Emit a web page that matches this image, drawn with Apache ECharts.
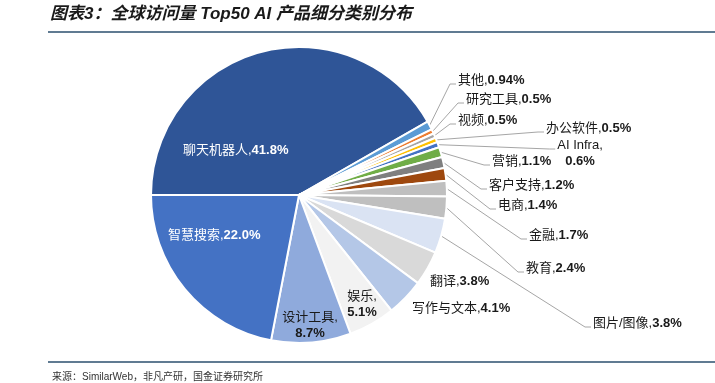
<!DOCTYPE html>
<html>
<head>
<meta charset="utf-8">
<script src="https://cdn.jsdelivr.net/npm/echarts@6/dist/echarts.min.js"></script>
<style>
  html, body { margin: 0; padding: 0; background: #fff; }
  #chart-panel { width: 715px; height: 383px; }
</style>
</head>
<body>
<div id="chart-panel"></div>
<script>
var chart = echarts.init(document.getElementById('chart-panel'));

// 类别（顺时针，从聊天机器人开始）
var names = ['聊天机器人', '其他', '研究工具', '视频', '办公软件', 'AI Infra', '营销', '客户支持',
  '电商', '金融', '教育', '图片/图像', '翻译', '写作与文本', '娱乐', '设计工具', '智慧搜索'];
// 占比 %
var values = [41.8, 0.94, 0.5, 0.5, 0.5, 0.6, 1.1, 1.2, 1.4, 1.7, 2.4, 3.8, 3.8, 4.1, 5.1, 8.7, 22.0];

var colors = ['#2F5597', '#5B9BD5', '#ED7D31', '#A5A5A5', '#FFC000', '#4472C4', '#70AD47', '#7F7F7F',
  '#9E480E', '#BFBFBF', '#BFBFBF', '#DAE3F3', '#D9D9D9', '#B4C7E7', '#F2F2F2', '#8FAADC', '#4472C4'];
// 标签位置 [x, y, 对齐]
var labelPos = [
  [183, 150, 'left'], [458, 80, 'left'], [466, 99, 'left'], [458, 120, 'left'],
  [546, 128, 'left'], [580, 153, 'center'], [492, 161, 'left'], [489, 185, 'left'],
  [498, 205, 'left'], [529, 235, 'left'], [526, 268, 'left'], [593, 323, 'left'],
  [430, 281, 'left'], [412, 308, 'left'], [362, 304, 'center'], [310, 325, 'center'],
  [168, 235, 'left']
];
var whiteLabel = ['聊天机器人', '智慧搜索'];
var noLine = ['聊天机器人', '智慧搜索', '设计工具', '娱乐', '翻译', '写作与文本'];
var wrapped = ['设计工具', '娱乐', 'AI Infra'];

function fmt(v) {
  return Math.abs(Math.round(v * 10) - v * 10) > 1e-6 ? v.toFixed(2) : v.toFixed(1);
}

var data = names.map(function (n, i) {
  var white = whiteLabel.indexOf(n) >= 0;
  return {
    name: n,
    value: values[i],
    itemStyle: { color: colors[i] },
    label: { color: white ? '#fff' : '#1a1a1a' },
    labelLine: { show: noLine.indexOf(n) < 0 }
  };
});

var option = {
  animation: false,
  backgroundColor: '#fff',
  graphic: [
    {
      type: 'text', left: 50, top: 6,
      style: {
        text: '图表3：全球访问量 Top50 AI 产品细分类别分布',
        font: 'italic bold 17px "Liberation Sans", "Noto Sans CJK SC"',
        fill: '#1a1a1a'
      }
    },
    {
      type: 'line', shape: { x1: 48, y1: 32, x2: 715, y2: 32 },
      style: { stroke: '#2B4F6E', lineWidth: 1.5 }
    },
    {
      type: 'line', shape: { x1: 48, y1: 362, x2: 715, y2: 362 },
      style: { stroke: '#2B4F6E', lineWidth: 1.5 }
    },
    {
      type: 'text', left: 52, top: 372,
      style: {
        text: '来源：SimilarWeb，非凡产研，国金证券研究所',
        font: '10px "Liberation Sans", "Noto Sans CJK SC"',
        fill: '#333'
      }
    }
  ],
  series: [{
    type: 'pie',
    center: [299, 195],
    radius: 148,
    startAngle: 180,
    clockwise: true,
    avoidLabelOverlap: false,
    itemStyle: { borderColor: '#fff', borderWidth: 2 },
    label: {
      show: true,
      position: 'outside',
      lineHeight: 16,
      formatter: function (p) {
        var sep = wrapped.indexOf(p.name) >= 0 ? ',\n' : ',';
        return '{n|' + p.name + sep + '}{v|' + fmt(p.value) + '%}';
      },
      rich: {
        n: { fontSize: 13, fontWeight: 'normal', fontFamily: '"Liberation Sans", "Noto Sans CJK SC"', lineHeight: 16 },
        v: { fontSize: 13, fontWeight: 'bold', fontFamily: '"Liberation Sans", "Noto Sans CJK SC"', lineHeight: 16 }
      }
    },
    labelLine: {
      show: true,
      length: 10,
      length2: 5,
      lineStyle: { color: '#A6A6A6', width: 1 }
    },
    labelLayout: function (p) {
      var pos = labelPos[p.dataIndex];
      var out = { x: pos[0], y: pos[1], align: pos[2], verticalAlign: 'middle' };
      if (p.labelLinePoints && noLine.indexOf(names[p.dataIndex]) < 0) {
        var w = p.labelRect.width;
        var left = pos[2] === 'center' ? pos[0] - w / 2 : pos[0];
        var ly = pos[2] === 'center' ? pos[1] - 4 : pos[1] + 4;
        var a = p.labelLinePoints[0];
        out.labelLinePoints = [a, [left - 8, ly], [left - 2, ly]];
      }
      return out;
    },
    data: data
  }]
};
chart.setOption(option);
</script>
</body>
</html>
